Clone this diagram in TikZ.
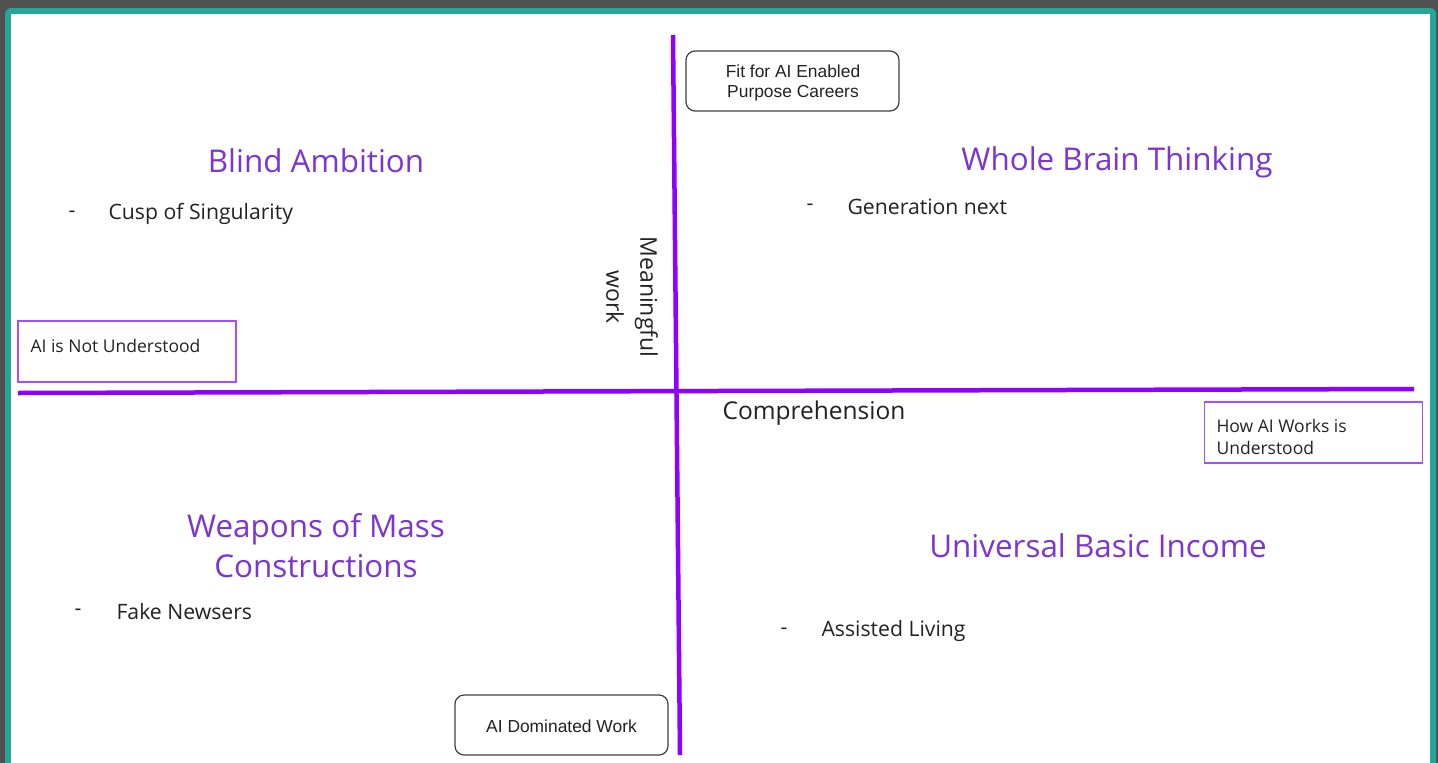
\documentclass[tikz,border=0pt]{standalone}
\usepackage{fontspec}
\setmainfont{Open Sans}
\newfontfamily\arialfont{Liberation Sans}
\definecolor{teal1}{HTML}{26A69A}
\definecolor{axis}{HTML}{8F00FF}
\definecolor{head}{HTML}{7B35D4}
\definecolor{boxp}{HTML}{A64DFF}
\definecolor{txt}{HTML}{222222}
\definecolor{tex}{HTML}{505050}
\tikzset{
  axisline/.style={draw=axis, line width=4.5pt},
  heading/.style={text=head, font=\fontsize{31.4}{40}\selectfont, align=center},
  bullet/.style={text=txt, font=\fontsize{21.2}{25}\selectfont, anchor=west},
  roundbox/.style={draw=black!75, line width=1.2pt, rounded corners=9pt, minimum width=213pt, minimum height=60pt},
  arialtext/.style={font=\arialfont\fontsize{17.4}{20}\selectfont, align=center, text=txt},
  purplebox/.style={draw=boxp, line width=1.2pt, minimum width=218pt, minimum height=61pt},
  boxtext/.style={text=txt, font=\fontsize{17.5}{22}\selectfont, anchor=west, align=left},
  axislabel/.style={text=txt, font=\fontsize{24.5}{34}\selectfont, align=center}
}
\begin{document}
\begin{tikzpicture}[x=1pt,y=-1pt]
\useasboundingbox (0,0) rectangle (1438,763);
\fill[tex] (0,0) rectangle (1438,763);
\fill[teal1, rounded corners=6pt] (5,8) -- (1436,8) -- (1436,800) -- (5,800) -- cycle;
\fill[white] (11,14) rectangle (1430,763);
% axes
\coordinate (vt) at (673,35);
\coordinate (vb) at (680,755);
\coordinate (hl) at (18,393);
\coordinate (hr) at (1414,389);
\draw[axisline] (vt) -- (vb);
\draw[axisline] (hl) -- (hr);
% axis labels
\node[axislabel, rotate=-90, font=\fontsize{23}{34}\selectfont] (mw) at (632,297) {Meaningful\\work};
\node[axislabel] (comp) at (814,413) {Comprehension};
% boxes
\node[roundbox] (fit) at (792.5,81) {};
\node[arialtext] (fitt) at (793,83) {Fit for AI Enabled\\Purpose Careers};
\node[roundbox] (dom) at (561.5,725) {};
\node[arialtext] (domt) at (561.5,726) {AI Dominated Work};
\node[purplebox] (notu) at (127,351.5) {};
\node[boxtext] (notut) at (27,346) {AI is Not Understood};
\node[purplebox] (howu) at (1313.5,432.5) {};
\node[boxtext] (howut) at (1213,437) {How AI Works is\\Understood};
% headings
\node[heading] (ba) at (316,161) {Blind Ambition};
\node[heading] (wb) at (1117,162) {Whole Brain Thinking};
\node[heading] (wm) at (316,546) {Weapons of Mass\\Constructions};
\node[heading] (ubi) at (1098,546) {Universal Basic Income};
% bullets
\node[bullet] (d1) at (65,214) {-};
\node[bullet] (b1) at (105,214) {Cusp of Singularity};
\node[bullet] (d2) at (803,207) {-};
\node[bullet] (b2) at (844,207) {Generation next};
\node[bullet] (d3) at (71,612) {-};
\node[bullet] (b3) at (113,612) {Fake Newsers};
\node[bullet] (d4) at (777,631) {-};
\node[bullet] (b4) at (818,631) {Assisted Living};
\end{tikzpicture}
\end{document}
